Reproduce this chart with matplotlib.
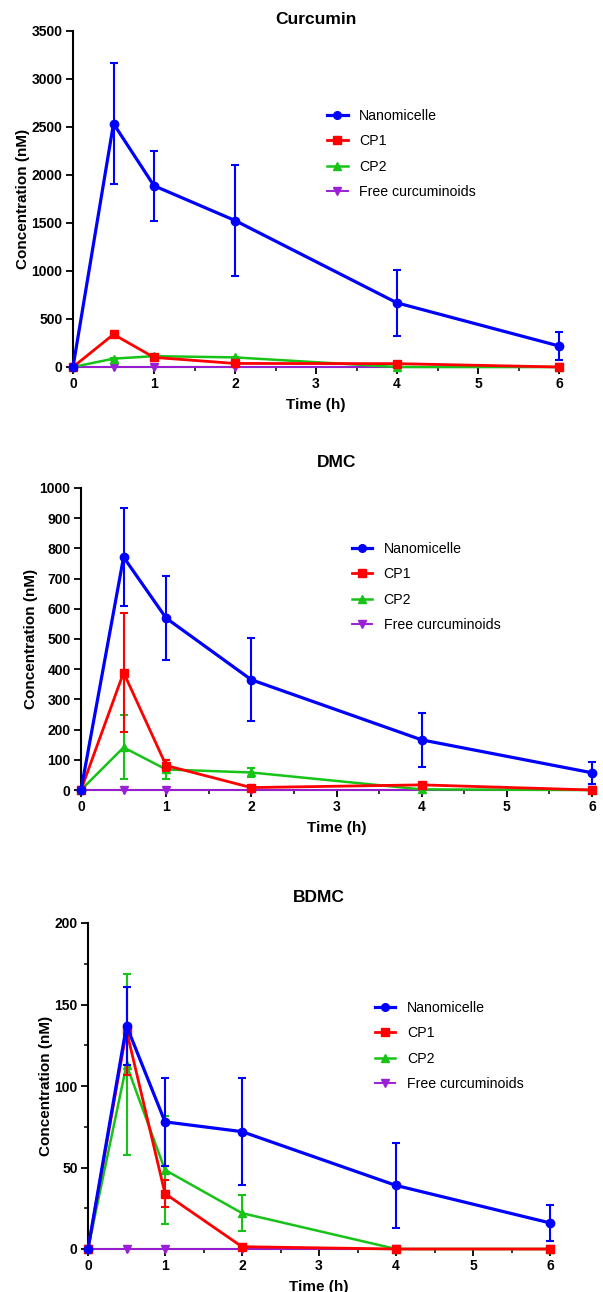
import matplotlib
matplotlib.use("Agg")
import matplotlib.pyplot as plt
from matplotlib.lines import Line2D
from matplotlib.ticker import MultipleLocator

plt.rcParams['font.family'] = ['Liberation Sans', 'DejaVu Sans']

# sampling times (h)
time_h = [0, 0.5, 1, 2, 4, 6]
series_names = ["Nanomicelle", "CP1", "CP2", "Free curcuminoids"]

# Curcumin (nM)
cur_nano = [0, 2535, 1888, 1526, 668, 219]
cur_nano_err = [0, 630, 365, 578, 347, 148]
cur_cp1 = [0, 340, 100, 37, 35, 0]
cur_cp1_err = [0, 20, 10, 5, 5, 0]
cur_cp2 = [0, 87, 113, 100, 0, 0]
cur_cp2_err = [0, 10, 10, 8, 0, 0]
cur_free = [0, 0, 0, 0, 0, 0]

# DMC (nM)
dmc_nano = [0, 771, 569, 365, 166, 57]
dmc_nano_err = [0, 163, 140, 137, 90, 36]
dmc_cp1 = [0, 389, 81, 8, 17, 0]
dmc_cp1_err = [0, 196, 17, 3, 4, 0]
dmc_cp2 = [0, 141, 68, 58, 2, 0]
dmc_cp2_err = [0, 106, 32, 15, 0, 0]
dmc_free = [0, 0, 0, 0, 0, 0]

# BDMC (nM)
bdmc_nano = [0, 137, 78, 72, 39, 16]
bdmc_nano_err = [0, 24, 27, 33, 26, 11]
bdmc_cp1 = [0, 134, 34, 1.4, 0, 0]
bdmc_cp1_err = [0, 27, 8.5, 0.5, 0, 0]
bdmc_cp2 = [0, 113, 48.5, 22, 0, 0]
bdmc_cp2_err = [0, 55.5, 33, 11, 0, 0]
bdmc_free = [0, 0, 0, 0, 0, 0]

colors = ["#0000FF", "#FF0000", "#17C317", "#9B1FD6"]
markers = ["o", "s", "^", "v"]
lws = [2.3, 2.0, 1.8, 1.4]

W, H = 603, 1292
fig = plt.figure(figsize=(W / 100, H / 100), dpi=100)


def px_axes(left, right, top, bottom):
    return fig.add_axes([left / W, 1 - bottom / H, (right - left) / W, (bottom - top) / H])


panels = [
    dict(title="Curcumin", box=(73, 559, 31, 367), ymax=3500, ystep=500, yminor=None,
         title_pad=5, leg=(0.523, 0.768), ylab_x=30,
         data=[(cur_nano, cur_nano_err), (cur_cp1, cur_cp1_err), (cur_cp2, cur_cp2_err), (cur_free, None)]),
    dict(title="DMC", box=(81, 592, 488, 790), ymax=1000, ystep=100, yminor=None,
         title_pad=15, leg=(0.530, 0.821), ylab_x=38,
         data=[(dmc_nano, dmc_nano_err), (dmc_cp1, dmc_cp1_err), (dmc_cp2, dmc_cp2_err), (dmc_free, None)]),
    dict(title="BDMC", box=(88, 550, 923, 1249), ymax=200, ystep=50, yminor=25,
         title_pad=15, leg=(0.621, 0.761), ylab_x=53,
         data=[(bdmc_nano, bdmc_nano_err), (bdmc_cp1, bdmc_cp1_err), (bdmc_cp2, bdmc_cp2_err), (bdmc_free, None)]),
]

for p in panels:
    ax = px_axes(*p["box"])
    # draw free first so nanomicelle sits on top
    for i in [3, 2, 1, 0]:
        vals, err = p["data"][i]
        cont = ax.errorbar(time_h, vals, yerr=err, color=colors[i], marker=markers[i],
                           markersize=6, lw=lws[i], elinewidth=1.5, capsize=3, capthick=1.5,
                           zorder=3 + (3 - i))
        for art in cont.lines[0:1] + tuple(cont.lines[1]) + tuple(cont.lines[2]):
            art.set_clip_on(False)

    ax.set_xlim(0, 6)
    ax.set_ylim(0, p["ymax"])
    ax.set_xticks([0, 1, 2, 3, 4, 5, 6])
    ax.xaxis.set_minor_locator(MultipleLocator(0.5))
    ax.yaxis.set_major_locator(MultipleLocator(p["ystep"]))
    if p["yminor"]:
        ax.yaxis.set_minor_locator(MultipleLocator(p["yminor"]))
    for s in ["top", "right"]:
        ax.spines[s].set_visible(False)
    for s in ["left", "bottom"]:
        ax.spines[s].set_linewidth(1.5)
    ax.tick_params(which="major", direction="out", length=5, width=1.3, labelsize=10, pad=2.5)
    ax.tick_params(which="minor", direction="out", length=3, width=1.1)
    for lab in ax.get_xticklabels() + ax.get_yticklabels():
        lab.set_fontweight("bold")

    ax.set_title(p["title"], fontsize=12.5, fontweight="bold", pad=p["title_pad"])
    ax.set_xlabel("Time (h)", fontsize=11, fontweight="bold", labelpad=5)
    ax.set_ylabel("Concentration (nM)", fontsize=11, fontweight="bold")
    ax.yaxis.set_label_coords((p["ylab_x"] - p["box"][0]) / (p["box"][1] - p["box"][0]), 0.5)

    handles = [Line2D([], [], color=colors[i], marker=markers[i], lw=lws[i], markersize=5.5)
               for i in range(4)]
    ax.legend(handles=handles, labels=series_names, loc="upper left", bbox_to_anchor=p["leg"],
              frameon=False, fontsize=10.2, borderaxespad=0, borderpad=0, handlelength=1.45,
              handletextpad=0.8, labelspacing=0.8)

fig.savefig("out.png", dpi=100)
